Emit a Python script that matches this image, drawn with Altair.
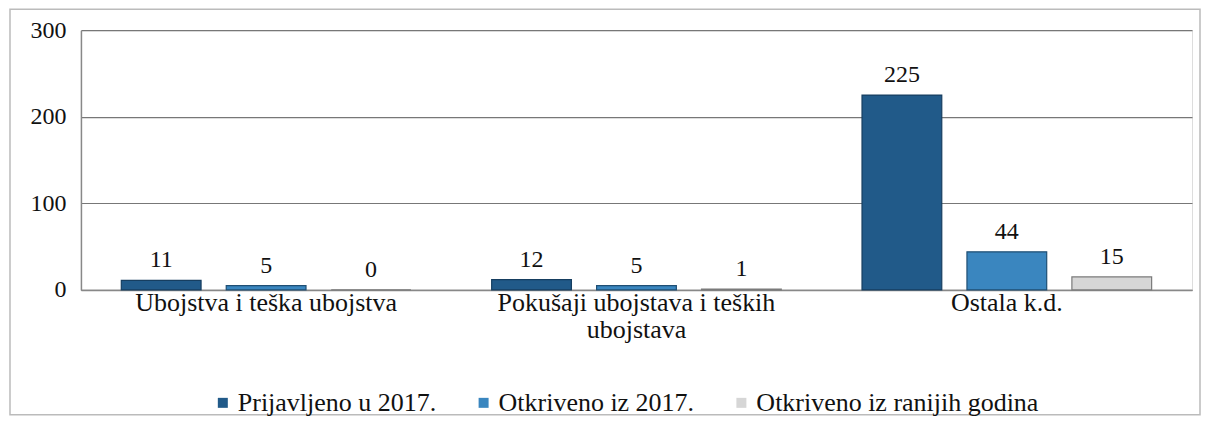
import altair as alt
import pandas as pd

categories = ["Ubojstva i teška ubojstva", "Pokušaji ubojstava i teških ubojstava", "Ostala k.d."]
series = ["Prijavljeno u 2017.", "Otkriveno iz 2017.", "Otkriveno iz ranijih godina"]
prijavljeno = [11, 12, 225]
otkriveno = [5, 5, 44]
ranijih = [0, 1, 15]
colors = ["#215a89", "#3a86bf", "#d6d6d6"]
strokes = ["#163e60", "#1f4f74", "#7a7a7a"]

rows = []
for i, c in enumerate(categories):
    for s, vals in zip(series, [prijavljeno, otkriveno, ranijih]):
        rows.append({"cat": c, "series": s, "value": vals[i]})
df = pd.DataFrame(rows)

W, H = 1112, 260
FONT = "Liberation Serif, Times New Roman, DejaVu Serif, serif"

x = alt.X("cat:N", sort=categories, title=None,
          scale=alt.Scale(paddingInner=0.15, paddingOuter=0.075),
          axis=alt.Axis(labelAngle=0, labelFont=FONT, labelFontSize=26, labelColor="#111",
                        labelPadding=0, ticks=False, domainColor="#888", domainWidth=1.5,
                        labelLineHeight=27, labelLimit=500,
                        labelExpr="datum.label == 'Pokušaji ubojstava i teških ubojstava' ? ['Pokušaji ubojstava i teških', 'ubojstava'] : datum.label"))
xo = alt.XOffset("series:N", sort=series,
                 scale=alt.Scale(paddingInner=0.24, paddingOuter=0.12))
y = alt.Y("value:Q", title=None,
          scale=alt.Scale(domain=[0, 300]),
          axis=alt.Axis(values=[0, 100, 200, 300], labelFont=FONT, labelFontSize=24,
                        labelColor="#111", labelPadding=15, ticks=False,
                        domainColor="#888", domainWidth=1.5,
                        gridColor="#777", gridWidth=1.2))

bars = alt.Chart(df).mark_bar(strokeWidth=1.2).encode(
    x=x, xOffset=xo, y=y,
    color=alt.Color("series:N", sort=series, title=None,
                    scale=alt.Scale(domain=series, range=colors),
                    legend=alt.Legend(orient="none", legendX=129, legendY=360,
                                      direction="horizontal", symbolType="square",
                                      symbolSize=100, labelFont=FONT, labelFontSize=26,
                                      labelColor="#111", columnPadding=34, labelOffset=2,
                                      labelLimit=500, symbolStrokeWidth=0)),
    stroke=alt.Stroke("series:N", sort=series, scale=alt.Scale(domain=series, range=strokes),
                      legend=None),
)

labels = alt.Chart(df).mark_text(font=FONT, fontSize=24, color="#111",
                                 baseline="bottom", dy=-8).encode(
    x=x, xOffset=xo, y=y, text="value:Q")

frame = alt.Chart(pd.DataFrame({"a": [0]})).mark_rect(
    fill=None, stroke="#bbb", strokeWidth=1.5, clip=False).encode(
    x=alt.value(-71), x2=alt.value(W + 8), y=alt.value(-21), y2=alt.value(385))

chart = alt.layer(frame, bars, labels).properties(
    width=W, height=H, padding={"left": 1, "top": 0, "right": 0, "bottom": 0}
).configure_view(stroke=None).configure(background="white")

chart.save("out.html", embed_options={"renderer": "svg", "actions": False})
